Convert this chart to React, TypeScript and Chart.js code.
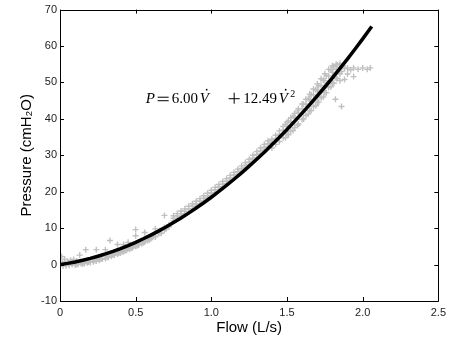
import React, { useEffect, useRef } from 'react';
import { Chart, registerables } from 'chart.js';

Chart.register(...registerables);

// Fitted curve
const fitFlow = [0, 0.05, 0.1, 0.15, 0.2, 0.25, 0.3, 0.35, 0.4, 0.45, 0.5, 0.55, 0.6, 0.65, 0.7, 0.75, 0.8, 0.85, 0.9, 0.95, 1.0, 1.05, 1.1, 1.15, 1.2, 1.25, 1.3, 1.35, 1.4, 1.45, 1.5, 1.55, 1.6, 1.65, 1.7, 1.75, 1.8, 1.85, 1.9, 1.95, 2.0, 2.05, 2.06];
const fitPressure = [0, 0.33, 0.72, 1.18, 1.7, 2.28, 2.92, 3.63, 4.4, 5.23, 6.12, 7.08, 8.1, 9.18, 10.32, 11.53, 12.79, 14.12, 15.52, 16.97, 18.49, 20.07, 21.71, 23.42, 25.19, 27.02, 28.91, 30.86, 32.88, 34.96, 37.1, 39.31, 41.57, 43.9, 46.3, 48.75, 51.27, 53.85, 56.49, 59.19, 61.96, 64.79, 65.36];

// Measured samples, low-flow part (grey crosses)
const lowFlow = [
  0.00, 0.00, 0.00, 0.01, 0.02, 0.02, 0.03, 0.04, 0.04, 0.05,
  0.06, 0.06, 0.07, 0.08, 0.08, 0.09, 0.10, 0.10, 0.11, 0.12,
  0.12, 0.13, 0.14, 0.14, 0.16, 0.16, 0.17, 0.18, 0.18, 0.20,
  0.20, 0.22, 0.22, 0.24, 0.24, 0.24, 0.26, 0.26, 0.28, 0.28,
  0.30, 0.30, 0.30, 0.32, 0.32, 0.33, 0.34, 0.34, 0.36, 0.36,
  0.38, 0.38, 0.38, 0.40, 0.40, 0.42, 0.42, 0.42, 0.44, 0.44,
  0.45, 0.46, 0.46, 0.48, 0.48, 0.50, 0.50, 0.50, 0.50, 0.52,
  0.52, 0.54, 0.54, 0.56, 0.56, 0.56, 0.58, 0.58, 0.60, 0.60,
  0.63, 0.63, 0.63, 0.66, 0.66, 0.69, 0.69, 0.69, 0.72, 0.72,
  0.15, 0.25, 0.35, 0.45, 0.55, 0.65, 0.70, 0.61, 0.51, 0.41,
  0.11, 0.15, 0.19, 0.23, 0.27, 0.31, 0.35, 0.39, 0.43, 0.47,
  0.51, 0.55, 0.59, 0.63, 0.67,
];
const lowPressure = [
  0.0, -0.5, 1.0, 2.2, 0.3, -0.4, 1.5, 0.1, -0.3, 0.9,
  0.2, -0.2, 1.2, 0.4, 0.0, 1.4, 0.5, -0.1, 1.0, 0.6,
  0.1, 2.6, 0.8, 0.2, 0.9, 0.3, 4.1, 1.1, 0.5, 1.3,
  0.6, 1.5, 0.8, 1.7, 1.0, 4.1, 2.0, 1.2, 2.3, 1.5,
  2.5, 1.7, 4.1, 2.8, 2.0, 6.6, 3.1, 2.3, 3.4, 2.6,
  3.7, 2.9, 5.5, 4.0, 3.2, 4.3, 3.5, 5.5, 4.6, 3.9,
  6.1, 5.0, 4.2, 5.3, 4.6, 5.7, 5.0, 9.6, 7.9, 6.1,
  5.4, 6.5, 5.8, 6.9, 6.2, 8.8, 7.3, 6.6, 7.8, 7.1,
  8.5, 7.8, 9.8, 9.3, 8.6, 10.2, 9.5, 13.5, 10.9, 10.4,
  0.5, 1.6, 2.9, 4.5, 6.4, 8.6, 9.8, 7.5, 5.5, 3.6,
  0.0, 0.3, 0.7, 1.1, 1.5, 2.0, 2.6, 3.2, 3.8, 4.5,
  5.2, 6.0, 6.8, 7.6, 8.6,
];

// Measured samples, middle part (band just above the curve)
const midFlow = [
  0.750, 0.750, 0.750, 0.775, 0.775, 0.775, 0.800, 0.800, 0.800,
  0.825, 0.825, 0.825, 0.850, 0.850, 0.850, 0.875, 0.875, 0.875,
  0.900, 0.900, 0.900, 0.925, 0.925, 0.925, 0.950, 0.950, 0.950,
  0.975, 0.975, 0.975, 1.000, 1.000, 1.000, 1.025, 1.025, 1.025,
  1.050, 1.050, 1.050, 1.075, 1.075, 1.075, 1.100, 1.100, 1.100,
  1.125, 1.125, 1.125, 1.150, 1.150, 1.150, 1.175, 1.175, 1.175,
  1.200, 1.200, 1.200, 1.225, 1.225, 1.225, 1.250, 1.250, 1.250,
  1.275, 1.275, 1.275, 1.300, 1.300, 1.300, 1.325, 1.325, 1.325,
  1.350, 1.350, 1.350, 1.375, 1.375, 1.375,
];
const midPressure = [
  12.0, 12.7, 13.4, 12.6, 13.3, 14.0, 13.3, 14.0, 14.7,
  13.9, 14.6, 15.3, 14.6, 15.3, 16.0, 15.3, 16.0, 16.7,
  16.0, 16.7, 17.4, 16.7, 17.4, 18.1, 17.5, 18.2, 18.9,
  18.2, 18.9, 19.6, 19.0, 19.7, 20.4, 19.8, 20.5, 21.2,
  20.6, 21.3, 22.0, 21.4, 22.1, 22.8, 22.2, 22.9, 23.6,
  23.1, 23.8, 24.5, 23.9, 24.6, 25.3, 24.8, 25.5, 26.2,
  25.7, 26.4, 27.1, 26.6, 27.3, 28.0, 27.5, 28.2, 28.9,
  28.4, 29.2, 30.0, 29.4, 30.2, 31.0, 30.4, 31.2, 32.0,
  31.4, 32.2, 33.0, 32.4, 33.2, 34.0,
];

// Measured samples, high-flow part (wider band around the curve)
const highFlow = [
  1.400, 1.400, 1.400, 1.425, 1.425, 1.425, 1.450, 1.450, 1.450,
  1.475, 1.475, 1.475, 1.500, 1.500, 1.500, 1.525, 1.525, 1.525,
  1.550, 1.550, 1.550, 1.575, 1.575, 1.575, 1.600, 1.600, 1.600,
  1.625, 1.625, 1.625,
  1.650, 1.650, 1.650, 1.650, 1.675, 1.675, 1.675, 1.675,
  1.700, 1.700, 1.700, 1.700, 1.725, 1.725, 1.725, 1.725,
  1.750, 1.750, 1.750, 1.750, 1.775, 1.775, 1.775, 1.775,
  1.800, 1.800, 1.800, 1.800, 1.825, 1.825, 1.825, 1.825,
  1.850, 1.850, 1.850, 1.850,
  1.49, 1.49, 1.51, 1.51, 1.54, 1.54, 1.57, 1.57, 1.61, 1.61,
  1.64, 1.64, 1.66, 1.66, 1.69, 1.69, 1.71, 1.71, 1.74, 1.74,
  1.76, 1.76, 1.79, 1.79, 1.81, 1.81, 1.83, 1.83,
];
const highPressure = [
  33.5, 34.4, 32.0, 34.6, 35.5, 33.0, 35.7, 36.7, 33.8,
  36.9, 37.9, 34.8, 38.0, 39.1, 35.8, 39.2, 40.3, 36.6,
  40.4, 41.5, 37.6, 41.6, 42.8, 38.6, 42.8, 44.1, 39.8,
  44.0, 45.4, 41.0,
  45.3, 46.8, 42.2, 44.0, 46.6, 48.2, 43.4, 45.0,
  47.9, 49.6, 44.6, 46.2, 49.2, 51.0, 45.8, 47.5,
  50.5, 52.4, 47.2, 48.6, 51.8, 53.6, 48.6, 50.0,
  52.8, 54.6, 49.8, 51.2, 53.6, 55.0, 51.2, 52.4,
  54.2, 55.2, 52.4, 50.5,
  38.5, 34.8, 39.4, 35.6, 40.8, 36.8, 42.2, 38.2, 44.0, 40.0,
  45.5, 41.3, 46.6, 42.3, 48.0, 43.6, 49.1, 44.6, 50.6, 46.0,
  51.8, 47.2, 53.4, 48.8, 54.3, 49.8, 54.8, 51.0,
];

// Measured samples, plateau at the end
const tailFlow = [1.82, 1.86, 1.88, 1.88, 1.90, 1.90, 1.92, 1.94, 1.94, 1.97, 2.00, 2.03, 2.05, 1.87, 1.86];
const tailPressure = [45.4, 43.4, 53.8, 50.8, 54.0, 52.3, 53.5, 51.6, 54.0, 53.6, 54.0, 53.6, 54.0, 54.6, 53.0];

const xTicks = [0, 0.5, 1, 1.5, 2, 2.5];
const yTicks = [-10, 0, 10, 20, 30, 40, 50, 60, 70];

const xLabel = 'Flow (L/s)';
const yLabel = 'Pressure (cmH\u2082O)';

// Equation anchor (data coordinates of its left baseline)
const eqFlow = 0.566;
const eqPressure = 44.3;

const framePlugin = {
  id: 'frameTicks',
  afterDraw(chart: any) {
    const { ctx, chartArea: a, scales } = chart;
    const xs = scales.x;
    const ys = scales.y;
    ctx.save();
    ctx.strokeStyle = '#000';
    ctx.lineWidth = 1;
    ctx.beginPath();
    ctx.rect(Math.round(a.left) + 0.5, Math.round(a.top) + 0.5, Math.round(a.right - a.left), Math.round(a.bottom - a.top));
    ctx.stroke();
    ctx.beginPath();
    xTicks.forEach((v) => {
      const px = Math.round(xs.getPixelForValue(v)) + 0.5;
      ctx.moveTo(px, a.bottom);
      ctx.lineTo(px, a.bottom - 4);
      ctx.moveTo(px, a.top);
      ctx.lineTo(px, a.top + 4);
    });
    yTicks.forEach((v) => {
      const py = Math.round(ys.getPixelForValue(v)) + 0.5;
      ctx.moveTo(a.left, py);
      ctx.lineTo(a.left + 4, py);
      ctx.moveTo(a.right, py);
      ctx.lineTo(a.right - 4, py);
    });
    ctx.stroke();

    // Equation  P = 6.00 V' + 12.49 V'^2
    const ex = xs.getPixelForValue(eqFlow);
    const ey = ys.getPixelForValue(eqPressure);
    ctx.fillStyle = '#000';
    ctx.textBaseline = 'alphabetic';
    ctx.textAlign = 'left';
    const ital = 'italic 15px "Liberation Serif", serif';
    const norm = '15px "Liberation Serif", serif';
    ctx.font = ital;
    ctx.fillText('P', ex, ey);
    ctx.fillRect(ex + 12, ey - 6.5, 11, 1);
    ctx.fillRect(ex + 12, ey - 3, 11, 1);
    ctx.font = norm;
    ctx.fillText('6.00', ex + 26, ey);
    ctx.font = ital;
    ctx.fillText('V', ex + 54, ey);
    ctx.beginPath();
    ctx.arc(ex + 61, ey - 13.5, 0.9, 0, Math.PI * 2);
    ctx.fill();
    ctx.fillRect(ex + 83, ey - 5, 11, 1);
    ctx.fillRect(ex + 88, ey - 10.5, 1, 11);
    ctx.font = norm;
    ctx.fillText('12.49', ex + 97.5, ey);
    ctx.font = ital;
    ctx.fillText('V', ex + 133, ey);
    ctx.beginPath();
    ctx.arc(ex + 140, ey - 13.5, 0.9, 0, Math.PI * 2);
    ctx.fill();
    ctx.font = '10px "Liberation Serif", serif';
    ctx.fillText('2', ex + 144.5, ey - 6);
    ctx.restore();
  },
};

export default function App() {
  const ref = useRef<HTMLCanvasElement | null>(null);

  useEffect(() => {
    if (!ref.current) return;
    const pairs = (fx: number[], fy: number[]) => fx.map((f, i) => ({ x: f, y: fy[i] }));
    const fitData = pairs(fitFlow, fitPressure);
    const sampleData = [
      ...pairs(lowFlow, lowPressure),
      ...pairs(midFlow, midPressure),
      ...pairs(highFlow, highPressure),
      ...pairs(tailFlow, tailPressure),
    ];
    const tickFont = { family: '"Liberation Sans", Arial, sans-serif', size: 11 };
    const chart = new Chart(ref.current, {
      type: 'scatter',
      data: {
        datasets: [
          {
            label: 'fit',
            data: fitData,
            showLine: true,
            borderColor: '#000',
            borderWidth: 3.5,
            pointRadius: 0,
            tension: 0,
            fill: false,
          } as any,
          {
            label: 'samples',
            data: sampleData,
            pointStyle: 'cross',
            pointRadius: 3,
            pointBorderWidth: 1.4,
            borderColor: '#c0c0c0',
            backgroundColor: '#c0c0c0',
            showLine: false,
          } as any,
        ],
      },
      options: {
        animation: false,
        responsive: false,
        events: [],
        layout: { padding: { left: 0, right: 7, top: 6, bottom: 0 } },
        plugins: { legend: { display: false }, tooltip: { enabled: false } },
        scales: {
          x: {
            type: 'linear',
            min: 0,
            max: 2.5,
            afterFit: (s: any) => { s.height = 37; },
            afterBuildTicks: (s: any) => { s.ticks = xTicks.map((v) => ({ value: v })); },
            ticks: { font: tickFont, color: '#222', padding: 5, maxRotation: 0 },
            grid: { display: false, drawTicks: false },
            border: { display: false },
            title: {
              display: true,
              text: xLabel,
              color: '#000',
              font: { family: '"Liberation Sans", Arial, sans-serif', size: 15 },
              padding: { top: 0, bottom: 1 },
            },
          },
          y: {
            type: 'linear',
            min: -10,
            max: 70,
            afterFit: (s: any) => { s.width = 60; },
            afterBuildTicks: (s: any) => { s.ticks = yTicks.map((v) => ({ value: v })); },
            ticks: { font: tickFont, color: '#222', padding: 3 },
            grid: { display: false, drawTicks: false },
            border: { display: false },
            title: {
              display: true,
              text: yLabel,
              color: '#000',
              font: { family: '"Liberation Sans", Arial, sans-serif', size: 15 },
              padding: { top: 18, bottom: 0 },
            },
          },
        },
      } as any,
      plugins: [framePlugin],
    });
    return () => chart.destroy();
  }, []);

  return (
    <div style={{ position: 'absolute', left: 0, top: 0, width: 451, height: 338, background: '#fff' }}>
      <canvas ref={ref} width={451} height={338} style={{ display: 'block' }} />
    </div>
  );
}
